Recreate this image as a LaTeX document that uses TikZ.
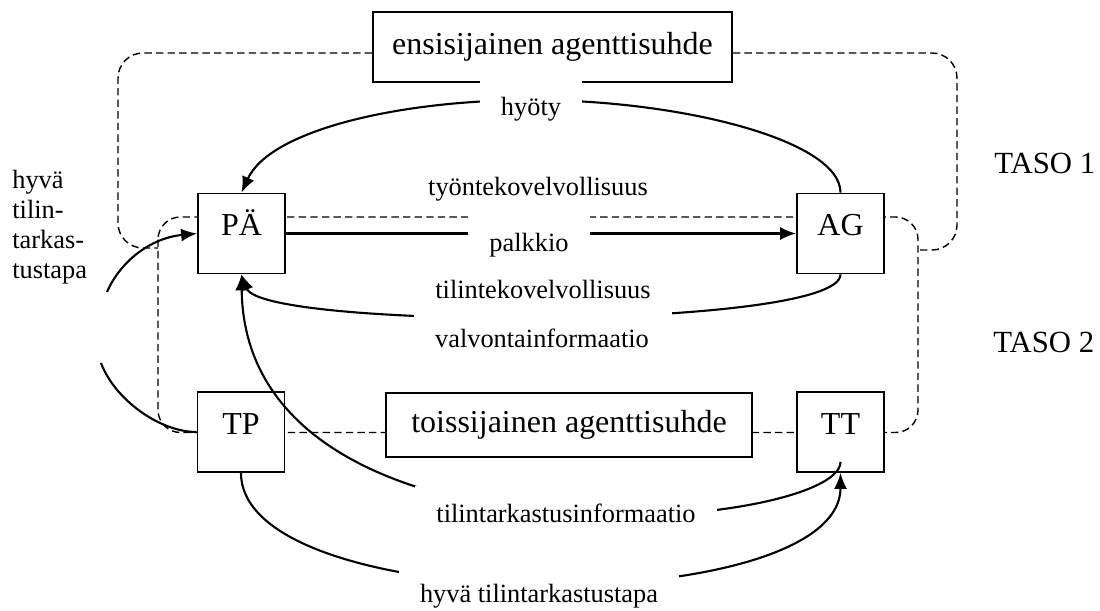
\documentclass[tikz,border=0pt]{standalone}
\usepackage{fontspec}
\setmainfont{Liberation Serif}
\usetikzlibrary{arrows.meta}
\tikzset{
  relbox/.style={rectangle,draw,fill=white,line width=1pt,minimum height=1.4cm,font=\fontsize{18.2}{22}\selectfont},
  party/.style={rectangle,draw,fill=white,line width=1pt,minimum width=1.74cm,inner sep=0pt,text height=0.84cm,text depth=0.76cm,font=\fontsize{18.2}{22}\selectfont},
  lbl/.style={fill=white,inner xsep=0.42cm,inner ysep=0.34cm,anchor=base,font=\fontsize{15}{17}\selectfont},
  sidenote/.style={anchor=west,align=left,inner sep=0pt,font=\fontsize{15}{17.07}\selectfont},
  taso/.style={anchor=base west,inner sep=0pt,font=\fontsize{17.5}{21}\selectfont},
  levelframe/.style={dash pattern=on 4.2pt off 2.4pt,line width=0.8pt,rounded corners=0.5cm},
  arrow/.style={-{Latex[length=3.2mm,width=2.6mm]},line width=1.2pt}
}
\begin{document}
\begin{tikzpicture}
  \useasboundingbox (0,0) rectangle (22,12.2);

  \node[relbox,minimum width=7.18cm] (ens) at (11.05,11.26) {ensisijainen agenttisuhde};

  % level frames (under the boxes)
  \draw[levelframe] ([yshift=-0.12cm]ens.west) -- (2.36,11.14) -- (2.36,7.24) -- (3.16,7.24);
  \draw[levelframe] ([yshift=-0.12cm]ens.east) -- (19.14,11.14) -- (19.14,7.2) -- (18.36,7.2);
  \draw[levelframe,rounded corners=0.45cm] (3.16,7.86) rectangle (18.36,3.55);

  \node[party] (PA) at (4.83,7.53) {PÄ};
  \node[party] (AG) at (16.81,7.53) {AG};
  \node[party] (TP) at (4.82,3.56) {TP};
  \node[party] (TT) at (16.81,3.56) {TT};
  \node[relbox,minimum width=7.32cm,minimum height=1.28cm] (tois) at (11.38,3.70) {toissijainen agenttisuhde};

  \coordinate (gapbot) at (2.02,4.94);
  \coordinate (gaptop) at (2.14,6.36);

  % flows
  \draw[arrow] (AG.north) .. controls (16.81,9.4) and (13.6,10.2) .. (10.64,10.2)
    .. controls (8.0,10.2) and (5.4,9.6) .. (PA.north);
  \draw[arrow] (PA) -- (AG);
  \draw[arrow] (AG.south) .. controls (16.81,5.6) and (5.24,5.6) .. (PA.south);
  \draw[arrow] ([yshift=0.22cm]TT.south) .. controls (16.81,1.6) and (4.9,0.5) .. (PA.south);
  \draw[arrow] (TP.south) .. controls (4.82,-0.2) and (16.81,-0.2) .. (TT.south);
  \draw[arrow] (TP.west) .. controls (3.2,3.56) and (2.3,4.2) .. (gapbot)
    (gaptop) .. controls (2.4,6.96) and (3.0,7.44) .. (PA.west);

  % labels
  \node[lbl] (hyoty) at (10.62,9.88) {hyöty};
  \node[lbl,fill=none] (tyonteko) at (10.76,8.30) {työntekovelvollisuus};
  \node[lbl] (palkkio) at (10.58,7.18) {palkkio};
  \node[lbl] (tilinteko) at (10.86,6.24) {tilintekovelvollisuus};
  \node[lbl] (valvonta) at (10.84,5.26) {valvontainformaatio};
  \node[lbl] (tilinfo) at (11.32,1.76) {tilintarkastusinformaatio};
  \node[lbl] (hyvatapa) at (10.78,0.16) {hyvä tilintarkastustapa};
  \node[sidenote] (hyvaleft) at (0.24,7.66) {hyvä\\tilin-\\tarkas-\\tustapa};

  \node[taso] (taso1) at (19.88,8.74) {TASO 1};
  \node[taso] (taso2) at (19.86,5.16) {TASO 2};
\end{tikzpicture}
\end{document}
